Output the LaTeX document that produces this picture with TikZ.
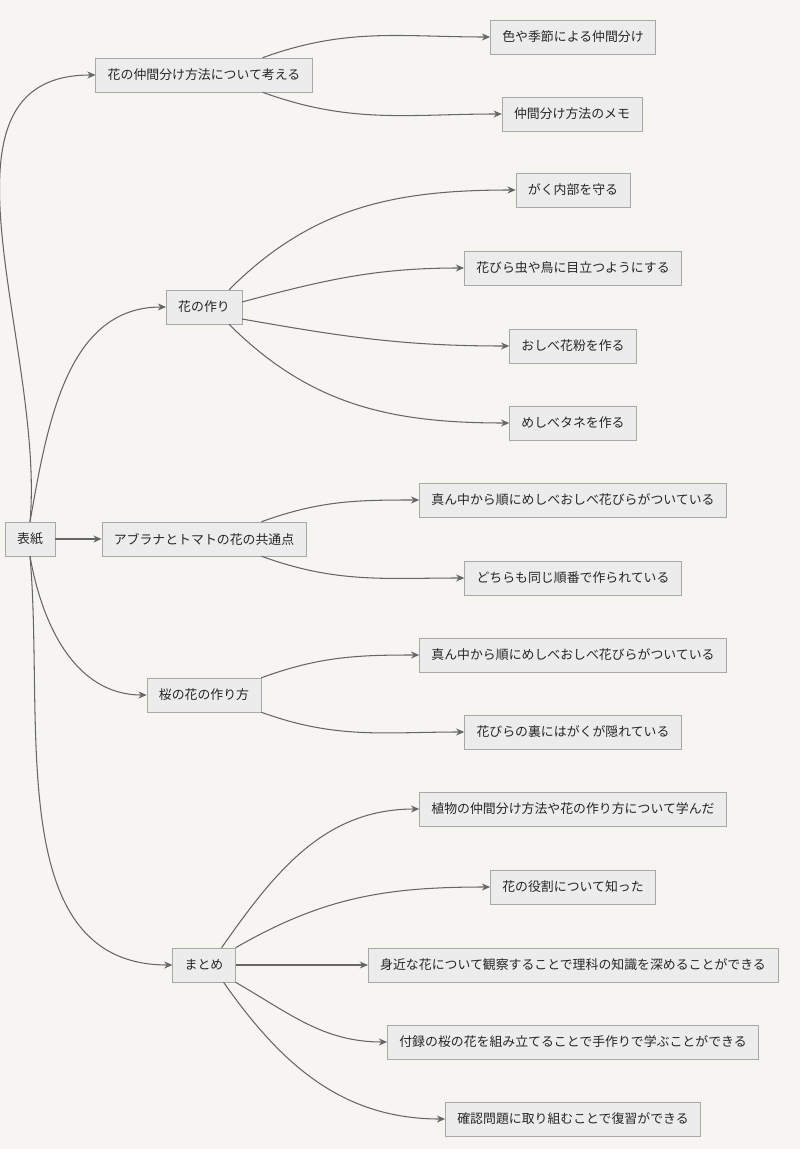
\documentclass[tikz,border=0pt]{standalone}
\usepackage{fontspec}
\setmainfont{Noto Sans CJK JP}
\usetikzlibrary{arrows.meta}
\definecolor{bgc}{HTML}{F6F5F2}
\definecolor{boxc}{HTML}{ECECEC}
\definecolor{edgec}{HTML}{A8A8A8}
\definecolor{linec}{HTML}{666666}
\tikzset{
  topic/.style={draw=edgec, fill=boxc, inner xsep=0.36cm, minimum height=1.02cm, font=\fontsize{11}{13}\selectfont, text=black!85},
  link/.style={draw=linec, line width=0.9pt, -{Stealth[length=7pt,width=6pt]}}
}
\begin{document}
\begin{tikzpicture}[x=0.03cm,y=-0.03cm]
	\fill[bgc] (0,0) rectangle (800,1149);
	\useasboundingbox (0,0) rectangle (800,1149);

	\node[topic] (root) at (30,539) {表紙};

	\node[topic] (idea) at (204,75) {花の仲間分け方法について考える};
	\node[topic] (iA) at (573,37) {色や季節による仲間分け};
	\node[topic] (iB) at (572,114) {仲間分け方法のメモ};

	\node[topic] (parts) at (204,307) {花の作り};
	\node[topic] (pA) at (573,190) {がく内部を守る};
	\node[topic] (pB) at (573,268) {花びら虫や鳥に目立つようにする};
	\node[topic] (pC) at (573,346) {おしべ花粉を作る};
	\node[topic] (pD) at (573,423) {めしべタネを作る};

	\node[topic] (common) at (204,539) {アブラナとトマトの花の共通点};
	\node[topic] (cA) at (573,500) {真ん中から順にめしべおしべ花びらがついている};
	\node[topic] (cB) at (573,578) {どちらも同じ順番で作られている};

	\node[topic] (sakura) at (204,695) {桜の花の作り方};
	\node[topic] (sA) at (573,655) {真ん中から順にめしべおしべ花びらがついている};
	\node[topic] (sB) at (573,732) {花びらの裏にはがくが隠れている};

	\node[topic] (summary) at (204,965) {まとめ};
	\node[topic] (mA) at (573,809) {植物の仲間分け方法や花の作り方について学んだ};
	\node[topic] (mB) at (573,887) {花の役割について知った};
	\node[topic] (mC) at (573,965) {身近な花について観察することで理科の知識を深めることができる};
	\node[topic] (mD) at (573,1042) {付録の桜の花を組み立てることで手作りで学ぶことができる};
	\node[topic] (mE) at (573,1119) {確認問題に取り組むことで復習ができる};

	% root branches
	\draw[link] (root.north) to[out=85,in=180] (idea.west);
	\draw[link] (root.north) to[out=80,in=180] (parts.west);
	\draw[link] (root) -- (common);
	\draw[link] (root.south) to[out=-80,in=180] (sakura.west);
	\draw[link] (root.south) to[out=-85,in=180] (summary.west);

	% leaves
	\draw[link] (idea.north east) ++(-50,0) to[out=20,in=180] (iA.west);
	\draw[link] (idea.south east) ++(-50,0) to[out=-20,in=180] (iB.west);

	\draw[link] (parts.north east) ++(-13,0) to[out=45,in=180] (pA.west);
	\draw[link] (parts.east) ++(0,-5) to[out=15,in=180] (pB.west);
	\draw[link] (parts.east) ++(0,12) to[out=-10,in=180] (pC.west);
	\draw[link] (parts.south east) ++(-13,0) to[out=-45,in=180] (pD.west);

	\draw[link] (common.north east) ++(-45,0) to[out=20,in=180] (cA.west);
	\draw[link] (common.south east) ++(-45,0) to[out=-20,in=180] (cB.west);

	\draw[link] (sakura.north east) ++(0,0) to[out=20,in=180] (sA.west);
	\draw[link] (sakura.south east) ++(0,0) to[out=-20,in=180] (sB.west);

	\draw[link] (summary.north east) ++(-14,0) to[out=55,in=180] (mA.west);
	\draw[link] (summary.north east) ++(0,0) to[out=30,in=180] (mB.west);
	\draw[link] (summary) -- (mC);
	\draw[link] (summary.south east) to[out=-30,in=180] (mD.west);
	\draw[link] (summary.south east) ++(-12,0) to[out=-55,in=180] (mE.west);
\end{tikzpicture}
\end{document}
